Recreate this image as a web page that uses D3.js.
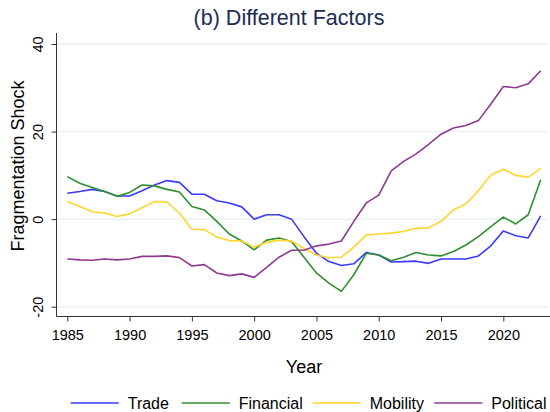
<!DOCTYPE html>
<html>
<head>
<meta charset="utf-8">
<script src="https://cdn.jsdelivr.net/npm/d3@7"></script>
<style>
  body { margin: 0; background: #fff; }
  svg { font-family: "Liberation Sans", Arial, Helvetica, sans-serif; }
</style>
</head>
<body>
<svg width="550" height="412"></svg>
<script>
// series
years = d3.range(1985, 2024);

trade = [5.9, 6.3, 6.8, 6.3, 5.3, 5.3, 6.5, 7.8, 8.8, 8.4, 5.7, 5.7, 4.2, 3.7, 2.8, 0.0, 1.0, 1.0, 0.0, -4.0,
  -7.8, -9.7, -10.6, -10.2, -7.6, -8.2, -9.8, -9.7, -9.6, -10.1, -9.1, -9.1, -9.1, -8.4, -6.1, -2.7, -3.8, -4.3, 0.75];
financial = [9.7, 8.2, 7.2, 6.3, 5.2, 6.1, 7.8, 7.6, 6.8, 6.2, 2.9, 2.1, -0.5, -3.4, -5.0, -7.0, -4.8, -4.3, -5.1, -8.7,
  -12.3, -14.6, -16.5, -12.7, -7.8, -8.2, -9.5, -8.7, -7.6, -8.2, -8.4, -7.4, -5.9, -4.0, -1.7, 0.45, -1.1, 1.0, 9.0];
mobility = [4.0, 2.9, 1.7, 1.4, 0.6, 1.2, 2.6, 4.0, 3.9, 1.4, -2.3, -2.4, -4.1, -4.9, -5.0, -6.4, -5.3, -4.8, -5.0, -6.7,
  -8.2, -8.8, -8.7, -6.4, -3.6, -3.4, -3.2, -2.8, -2.1, -2.0, -0.5, 2.1, 3.5, 6.5, 10.1, 11.4, 10.0, 9.6, 11.6];
political = [-9.1, -9.3, -9.4, -9.1, -9.3, -9.1, -8.5, -8.5, -8.4, -8.8, -10.7, -10.4, -12.3, -12.9, -12.5, -13.3, -11.0, -8.7, -7.1, -7.1,
  -6.1, -5.7, -5.0, -0.5, 3.7, 5.5, 11.0, 13.2, 14.9, 17.1, 19.4, 20.8, 21.4, 22.5, 26.3, 30.3, 30.0, 30.9, 33.9];

xTicks = [1985, 1990, 1995, 2000, 2005, 2010, 2015, 2020];
yTicks = [-20, 0, 20, 40];

seriesNames = ["Trade", "Financial", "Mobility", "Political"];
seriesValues = [trade, financial, mobility, political];
seriesColors = ["#3a3aff", "#2e8f2e", "#ffd52e", "#8f3a93"];

svg = d3.select("svg");

x = d3.scaleLinear().domain([1985, 2023]).range([67.3, 540.7]);
y = d3.scaleLinear().domain([-20, 40]).range([306.7, 44]);

axisLeft = 56.5;
axisBottom = 316.5;

// gridlines
svg.append("g")
  .selectAll("line")
  .data(yTicks)
  .join("line")
    .attr("x1", axisLeft)
    .attr("x2", 548)
    .attr("y1", d => y(d))
    .attr("y2", d => y(d))
    .attr("stroke", "#eaf2f3")
    .attr("stroke-width", 1.5);

// lines
line = d3.line()
  .x((d, i) => x(years[i]))
  .y(d => y(d));

svg.append("g")
  .selectAll("path")
  .data(seriesValues)
  .join("path")
    .attr("d", d => line(d))
    .attr("fill", "none")
    .attr("stroke", (d, i) => seriesColors[i])
    .attr("stroke-width", 1.6)
    .attr("stroke-linejoin", "round");

// y axis (plain hyphen for negatives, like the original)
gy = svg.append("g")
  .attr("transform", "translate(" + axisLeft + ",0)")
  .call(d3.axisLeft(y).tickValues(yTicks).tickSize(5).tickPadding(4).tickFormat(d => String(d)));
gy.select(".domain").attr("d", "M0,33V" + axisBottom).attr("stroke", "#333");
gy.selectAll(".tick line").attr("stroke", "#333");
gy.selectAll(".tick text")
  .attr("font-size", 14.5)
  .attr("fill", "#000")
  .attr("transform", "rotate(-90)")
  .attr("x", 0)
  .attr("y", -13.5)
  .attr("dy", 0)
  .attr("text-anchor", "middle");

// x axis
gx = svg.append("g")
  .attr("transform", "translate(0," + axisBottom + ")")
  .call(d3.axisBottom(x).tickValues(xTicks).tickSize(5).tickPadding(4).tickFormat(d => String(d)));
gx.select(".domain").attr("d", "M" + axisLeft + ",0H550").attr("stroke", "#333");
gx.selectAll(".tick line").attr("stroke", "#333");
gx.selectAll(".tick text")
  .attr("font-size", 14.5)
  .attr("fill", "#000")
  .attr("y", 23.5)
  .attr("dy", 0);

// titles
svg.append("text")
  .attr("x", 289)
  .attr("y", 25)
  .attr("text-anchor", "middle")
  .attr("font-size", 21.5)
  .attr("fill", "#1c2d55")
  .text("(b) Different Factors");

svg.append("text")
  .attr("x", 304)
  .attr("y", 373)
  .attr("text-anchor", "middle")
  .attr("font-size", 18)
  .attr("fill", "#000")
  .text("Year");

svg.append("text")
  .attr("transform", "translate(24,166) rotate(-90)")
  .attr("text-anchor", "middle")
  .attr("font-size", 18)
  .attr("fill", "#000")
  .text("Fragmentation Shock");

// legend
legendX = [70.7, 181.7, 312.7, 434.3];
legend = svg.append("g")
  .selectAll("g")
  .data(seriesNames)
  .join("g")
    .attr("transform", (d, i) => "translate(" + legendX[i] + ",403)");
legend.append("line")
  .attr("x1", 0)
  .attr("x2", 48)
  .attr("stroke", (d, i) => seriesColors[i])
  .attr("stroke-width", 1.6);
legend.append("text")
  .attr("x", 57)
  .attr("y", 6)
  .attr("font-size", 16)
  .attr("fill", "#000")
  .text(d => d);
</script>
</body>
</html>
